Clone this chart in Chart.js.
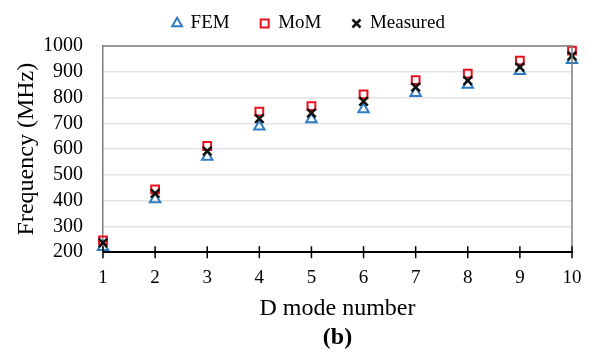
<!DOCTYPE html>
<html>
<head>
<meta charset="utf-8">
<script src="https://cdn.jsdelivr.net/npm/chart.js@4.4.1/dist/chart.umd.min.js"></script>
<style>
  html, body { margin: 0; padding: 0; background: #fff; }
  #wrap { width: 589px; height: 354px; }
</style>
</head>
<body>
<div id="wrap"><canvas id="modeChart"></canvas></div>
<script>
const modes = [1, 2, 3, 4, 5, 6, 7, 8, 9, 10];
const femValues = [220, 405, 570, 688, 716, 755, 818, 850, 903, 946];
const momValues = [246, 444, 612, 745, 767, 812, 868, 893, 943, 982];
const measuredValues = [236, 428, 592, 718, 740, 785, 840, 866, 918, 962];
const yTicks = [200, 300, 400, 500, 600, 700, 800, 900, 1000];

const serif = "'Liberation Serif', 'Times New Roman', serif";

function toPoints(values) {
  return modes.map((m, i) => ({ x: m, y: values[i] }));
}

// frame on top/right and tick marks that cross the x axis
const frameAndTicks = {
  id: "frameAndTicks",
  afterLayout(chart) {
    // the original centres "(b)" under the plot and the legend a bit right of the page centre
    if (chart.titleBlock) {
      chart.titleBlock.left = chart.chartArea.left;
      chart.titleBlock.right = chart.chartArea.right;
    }
    if (chart.legend) {
      chart.legend.left += 17;
      chart.legend.right += 17;
      chart.legend.top -= 3;
      chart.legend.bottom -= 3;
    }
  },
  afterDraw(chart) {
    const { ctx, chartArea } = chart;
    const xScale = chart.scales.x;
    ctx.save();
    ctx.strokeStyle = "#7f7f7f";
    ctx.lineWidth = 1.5;
    ctx.beginPath();
    ctx.moveTo(chartArea.left, chartArea.top);
    ctx.lineTo(chartArea.right, chartArea.top);
    ctx.lineTo(chartArea.right, chartArea.bottom);
    ctx.stroke();
    ctx.strokeStyle = "#000";
    ctx.lineWidth = 1.5;
    modes.forEach(m => {
      const px = xScale.getPixelForValue(m);
      ctx.beginPath();
      ctx.moveTo(px, chartArea.bottom - 6);
      ctx.lineTo(px, chartArea.bottom + 6);
      ctx.stroke();
    });
    ctx.restore();
  }
};

const ctx = document.getElementById("modeChart").getContext("2d");
const chart = new Chart(ctx, {
  type: "scatter",
  data: {
    datasets: [
      {
        label: "FEM",
        data: toPoints(femValues),
        pointStyle: "triangle",
        borderColor: "#2e7dc2",
        backgroundColor: "rgba(255,255,255,0)",
        borderWidth: 2,
        pointRadius: 6,
        order: 3
      },
      {
        label: "MoM",
        data: toPoints(momValues),
        pointStyle: "rect",
        borderColor: "#e8101a",
        backgroundColor: "rgba(255,255,255,0)",
        borderWidth: 2,
        pointRadius: 5.5,
        order: 2
      },
      {
        label: "Measured",
        data: toPoints(measuredValues),
        pointStyle: "crossRot",
        borderColor: "#111",
        backgroundColor: "#111",
        borderWidth: 2.5,
        pointRadius: 6,
        order: 1
      }
    ]
  },
  options: {
    responsive: true,
    maintainAspectRatio: false,
    animation: false,
    clip: false,
    layout: {
      padding: { left: 12, right: 17, top: -14, bottom: 0 }
    },
    scales: {
      x: {
        type: "linear",
        min: 1,
        max: 10,
        afterFit: axis => { axis.height = 71; axis.paddingRight = 0; },
        grid: { display: false, drawTicks: false },
        border: { color: "#000", width: 2 },
        ticks: {
          stepSize: 1,
          padding: 14,
          color: "#000",
          font: { family: serif, size: 19 }
        },
        title: {
          display: true,
          text: "D mode number",
          color: "#000",
          padding: { top: 5, bottom: 0 },
          font: { family: serif, size: 24 }
        }
      },
      y: {
        min: 200,
        max: 1000,
        afterFit: axis => { axis.width = 91; },
        afterBuildTicks: axis => { axis.ticks = yTicks.map(v => ({ value: v })); },
        grid: { color: "#e3e3e3", lineWidth: 1.5, drawTicks: false },
        border: { color: "#7f7f7f", width: 1.5 },
        ticks: {
          autoSkip: false,
          padding: 20,
          color: "#000",
          font: { family: serif, size: 20 },
          callback: v => String(v)
        },
        title: {
          display: true,
          text: "Frequency (MHz)",
          color: "#000",
          padding: { top: 0, bottom: 4 },
          font: { family: serif, size: 24 }
        }
      }
    },
    plugins: {
      legend: {
        position: "top",
        labels: {
          usePointStyle: true,
          boxHeight: 8,
          boxWidth: 8,
          padding: 31,
          color: "#000",
          font: { family: serif, size: 19 },
          sort: (a, b) => a.datasetIndex - b.datasetIndex
        }
      },
      title: {
        display: true,
        position: "bottom",
        text: "(b)",
        color: "#000",
        padding: { top: 0, bottom: 2 },
        font: { family: serif, size: 24, weight: "bold" }
      },
      tooltip: { enabled: false }
    }
  },
  plugins: [frameAndTicks]
});
</script>
</body>
</html>
